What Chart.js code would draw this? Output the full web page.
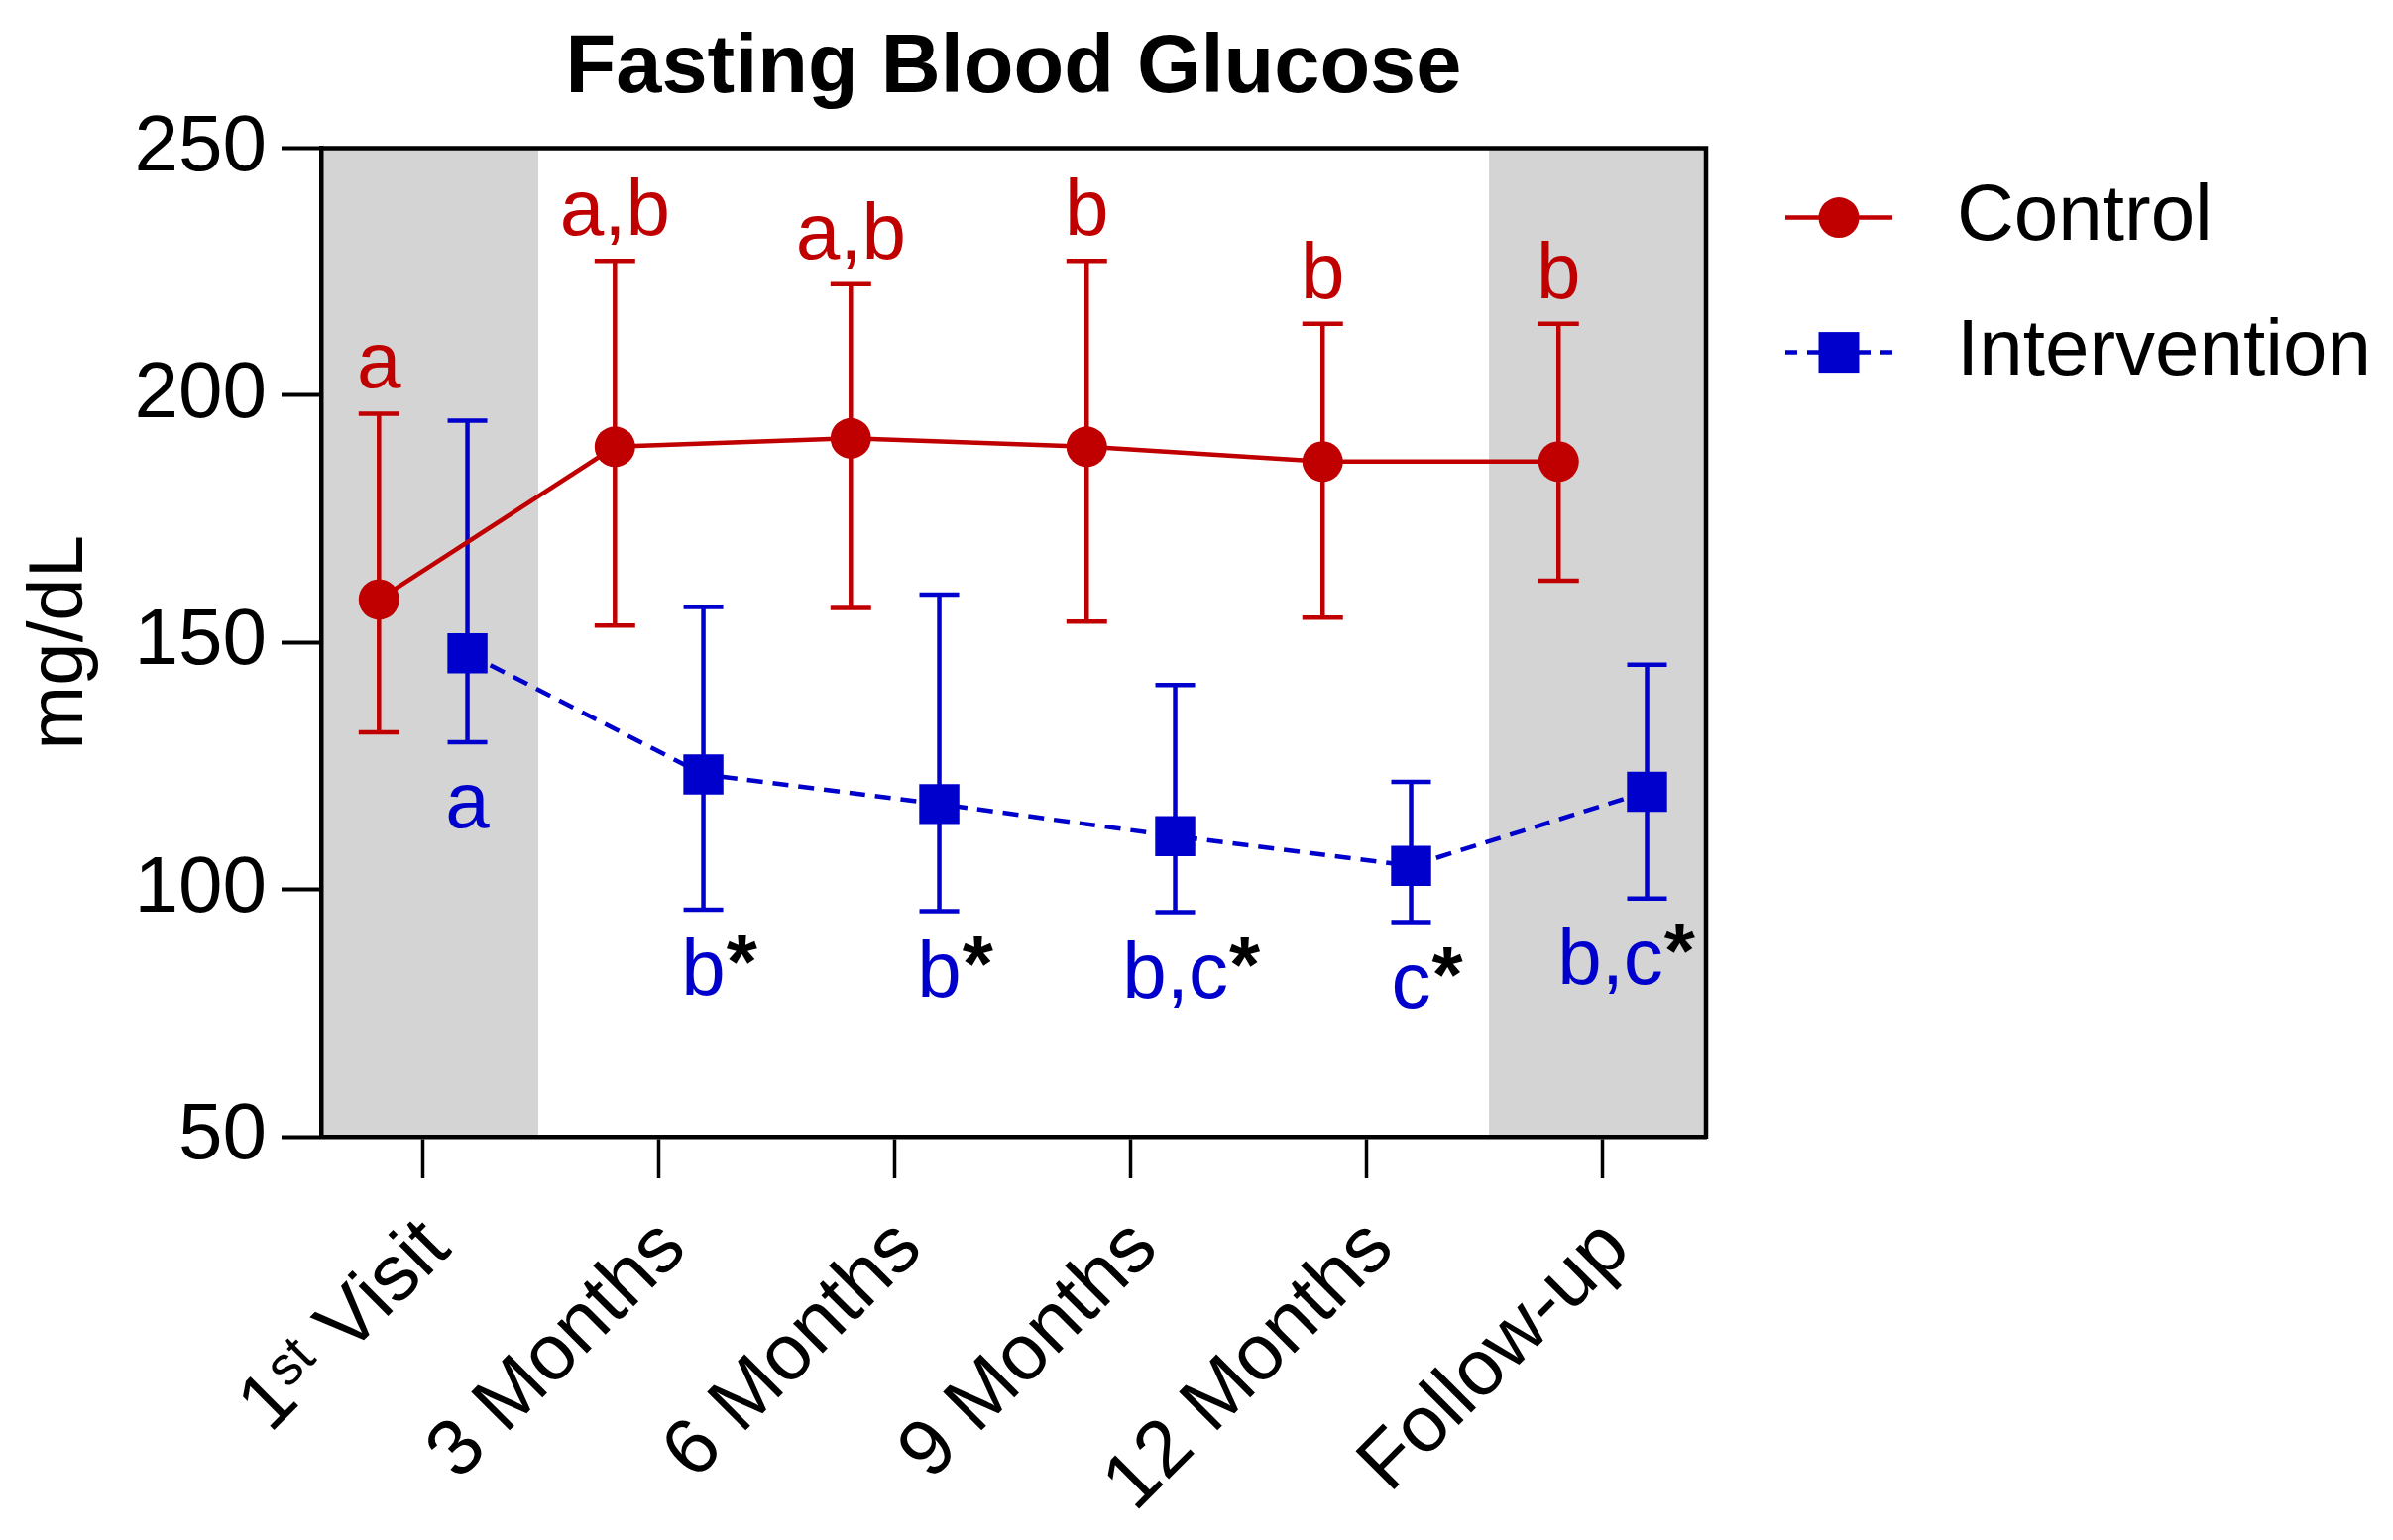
<!DOCTYPE html>
<html>
<head>
<meta charset="utf-8">
<script src="https://cdn.jsdelivr.net/npm/chart.js@4.4.1/dist/chart.umd.min.js"></script>
<style>
html,body{margin:0;padding:0;background:#fff;}
canvas{display:block;}
</style>
</head>
<body>
<canvas id="c" width="2414" height="1554" style="width:2414px;height:1554px"></canvas>
<script>
// ---- data ----
const categories = ['1ˢᵗ Visit', '3 Months', '6 Months', '9 Months', '12 Months', 'Follow-up'];
const controlMean = [158.7, 189.6, 191.3, 189.6, 186.6, 186.6];
const controlUpper = [196.3, 227.2, 222.5, 227.2, 214.5, 214.5];
const controlLower = [131.8, 153.4, 157.0, 154.2, 155.0, 162.5];
const interventionMean = [147.8, 123.3, 117.3, 110.8, 104.8, 119.8];
const interventionUpper = [194.9, 157.2, 159.7, 141.4, 121.8, 145.5];
const interventionLower = [129.8, 95.9, 95.6, 95.4, 93.4, 98.2];
const controlLetters = ['a', 'a,b', 'a,b', 'b', 'b', 'b'];
const interventionLetters = ['a', 'b', 'b', 'b,c', 'c', 'b,c'];
const interventionStars = ['', '*', '*', '*', '*', '*'];
const yTicks = [50, 100, 150, 200, 250];
const shadedRanges = [[-0.43, 0.49], [4.52, 5.44]];

// ---- styling ----
const RED = '#C00000';
const BLUE = '#0000CC';
const GRAY = '#D4D4D4';
const FONT = "'Liberation Sans', Arial, Helvetica, sans-serif";
const CTRL_OFF = -0.185;
const INT_OFF = 0.19;
Chart.defaults.font.family = FONT;
Chart.defaults.color = '#000';

function pts(off, vals) { return vals.map((v, i) => ({x: i + off, y: v})); }
function errSegments(off, lo, hi) {
  const out = [];
  lo.forEach((l, i) => { out.push({x: i + off, y: l}, {x: i + off, y: hi[i]}, {x: i + off, y: null}); });
  return out;
}
function caps(off, lo, hi) {
  const out = [];
  lo.forEach((l, i) => { out.push({x: i + off, y: l}, {x: i + off, y: hi[i]}); });
  return out;
}

const bgPlugin = {
  id: 'bg',
  beforeDraw(chart) {
    const {ctx, chartArea: a, scales: {x}} = chart;
    ctx.save();
    ctx.fillStyle = '#fff';
    ctx.fillRect(0, 0, chart.width, chart.height);
    ctx.fillStyle = GRAY;
    shadedRanges.forEach(([lo, hi]) => {
      const x0 = x.getPixelForValue(lo), x1 = x.getPixelForValue(hi);
      ctx.fillRect(x0, a.top, x1 - x0, a.bottom - a.top);
    });
    ctx.restore();
  }
};

const framePlugin = {
  id: 'frame',
  afterDatasetsDraw(chart) {
    const {ctx, chartArea: a} = chart;
    ctx.save();
    ctx.strokeStyle = '#000';
    ctx.lineWidth = 4.5;
    ctx.beginPath();
    ctx.moveTo(a.left - 2, a.top);
    ctx.lineTo(a.right, a.top);
    ctx.lineTo(a.right, a.bottom + 2);
    ctx.stroke();
    ctx.restore();
  }
};

const lettersPlugin = {
  id: 'letters',
  afterDatasetsDraw(chart) {
    const {ctx, chartArea: a, scales: {x, y}} = chart;
    ctx.save();
    ctx.textBaseline = 'alphabetic';
    controlLetters.forEach((t, i) => {
      ctx.font = '80px ' + FONT;
      ctx.fillStyle = RED;
      ctx.textAlign = 'center';
      ctx.fillText(t, x.getPixelForValue(i + CTRL_OFF), y.getPixelForValue(controlUpper[i]) - 26);
    });
    interventionLetters.forEach((t, i) => {
      ctx.font = '80px ' + FONT;
      const w = ctx.measureText(t).width;
      ctx.font = 'bold 80px ' + FONT;
      const sw = ctx.measureText(interventionStars[i]).width;
      let cx = x.getPixelForValue(i + INT_OFF);
      const limit = a.right - 12;
      if (cx + w / 2 + sw > limit) cx = limit - sw - w / 2;
      const by = y.getPixelForValue(interventionLower[i]) + 86;
      ctx.textAlign = 'left';
      ctx.fillStyle = BLUE;
      ctx.font = '80px ' + FONT;
      ctx.fillText(t, cx - w / 2, by);
      ctx.fillStyle = '#000';
      ctx.font = 'bold 80px ' + FONT;
      ctx.fillText(interventionStars[i], cx + w / 2 + 1, by - 6);
    });
    ctx.restore();
  }
};

const legendPlugin = {
  id: 'customLegend',
  afterDraw(chart) {
    const {ctx, chartArea: a} = chart;
    const items = [
      {label: 'Control', ds: chart.data.datasets[4], dy: 70},
      {label: 'Intervention', ds: chart.data.datasets[5], dy: 206}
    ];
    const cx = a.right + 134;
    ctx.save();
    items.forEach(it => {
      const yy = a.top + it.dy;
      ctx.strokeStyle = it.ds.borderColor;
      ctx.lineWidth = 4.5;
      ctx.setLineDash(it.ds.borderDash ? [12, 10] : []);
      ctx.beginPath();
      ctx.moveTo(cx - 54, yy); ctx.lineTo(cx, yy);
      ctx.moveTo(cx + 54, yy); ctx.lineTo(cx, yy);
      ctx.stroke();
      ctx.setLineDash([]);
      ctx.fillStyle = it.ds.pointBackgroundColor;
      if (it.ds.pointStyle === 'circle') {
        ctx.beginPath(); ctx.arc(cx, yy, 20.5, 0, Math.PI * 2); ctx.fill();
      } else {
        ctx.fillRect(cx - 20.5, yy - 20.5, 41, 41);
      }
      ctx.fillStyle = '#000';
      ctx.font = '80px ' + FONT;
      ctx.textAlign = 'left';
      ctx.textBaseline = 'middle';
      ctx.fillText(it.label, a.right + 253, yy);
    });
    ctx.restore();
  }
};

new Chart(document.getElementById('c'), {
  type: 'line',
  data: {
    datasets: [
      {label: 'cerr', data: errSegments(CTRL_OFF, controlLower, controlUpper), borderColor: RED, borderWidth: 4.5, pointRadius: 0, spanGaps: false, order: 6},
      {label: 'ccap', data: caps(CTRL_OFF, controlLower, controlUpper), showLine: false, pointStyle: 'line', pointRadius: 20.5, pointBorderWidth: 4.5, borderColor: RED, pointBorderColor: RED, order: 5},
      {label: 'ierr', data: errSegments(INT_OFF, interventionLower, interventionUpper), borderColor: BLUE, borderWidth: 4.5, pointRadius: 0, spanGaps: false, order: 4},
      {label: 'icap', data: caps(INT_OFF, interventionLower, interventionUpper), showLine: false, pointStyle: 'line', pointRadius: 20, pointBorderWidth: 4.5, borderColor: BLUE, pointBorderColor: BLUE, order: 3},
      {label: 'Control', data: pts(CTRL_OFF, controlMean), borderColor: RED, borderWidth: 4.5, pointStyle: 'circle', pointRadius: 20.5, pointBackgroundColor: RED, pointBorderWidth: 0, tension: 0, order: 2},
      {label: 'Intervention', data: pts(INT_OFF, interventionMean), borderColor: BLUE, borderWidth: 4.5, borderDash: [16, 10], pointStyle: 'rect', pointRadius: 28.6, pointBackgroundColor: BLUE, pointBorderWidth: 0, tension: 0, order: 1}
    ]
  },
  options: {
    responsive: false,
    devicePixelRatio: 1,
    animation: false,
    events: [],
    layout: {padding: {left: 0, right: 693, top: 0, bottom: 0}},
    plugins: {
      legend: {display: false},
      tooltip: {enabled: false},
      title: {
        display: true, text: 'Fasting Blood Glucose', fullSize: false,
        font: {size: 83, weight: 'bold'}, color: '#000',
        padding: {top: 20, bottom: 30}
      }
    },
    scales: {
      x: {
        type: 'linear', min: -0.43, max: 5.44,
        afterBuildTicks: ax => { ax.ticks = categories.map((c, i) => ({value: i})); },
        ticks: {
          callback: (v, idx) => categories[idx],
          font: {size: 80}, color: '#000',
          minRotation: 45, maxRotation: 45, autoSkip: false, padding: 24, labelOffset: 15
        },
        grid: {drawOnChartArea: false, drawTicks: true, tickLength: 42, tickWidth: 3.5, tickColor: '#000'},
        border: {display: true, color: '#000', width: 4.5},
        afterFit: ax => { ax.height = 407; }
      },
      y: {
        min: 50, max: 250,
        afterBuildTicks: ax => { ax.ticks = yTicks.map(v => ({value: v})); },
        ticks: {font: {size: 80}, color: '#000', padding: 15},
        grid: {drawOnChartArea: false, drawTicks: true, tickLength: 40, tickWidth: 4, tickColor: '#000'},
        border: {display: true, color: '#000', width: 4.5},
        title: {display: true, text: 'mg/dL', font: {size: 78}, color: '#000', padding: {top: 15, bottom: 0}},
        afterFit: ax => { ax.width = 324; }
      }
    }
  },
  plugins: [bgPlugin, framePlugin, lettersPlugin, legendPlugin]
});
</script>
</body>
</html>
